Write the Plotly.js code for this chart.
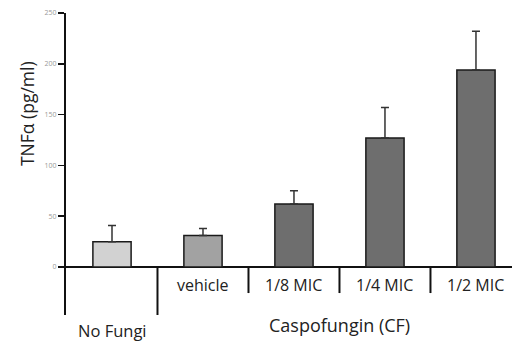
<!DOCTYPE html>
<html><head><meta charset="utf-8">
<script src="https://cdn.plot.ly/plotly-3.0.1.min.js"></script>
<style>html,body{margin:0;padding:0;background:#fff}#c{width:516px;height:346px}</style>
</head><body><div id="c"></div>
<script>
const categories = ["No Fungi", "vehicle", "1/8 MIC", "1/4 MIC", "1/2 MIC"];
const means = [25, 31, 62, 127, 194];
const errUpper = [16, 7, 13, 30, 38];
const yTicks = [0, 50, 100, 150, 200, 250];
const groupLabel = "Caspofungin (CF)";
const yTitle = "TNF\u03b1 (pg/ml)";

const barColors = ["#d2d2d2", "#a2a2a2", "#6e6e6e", "#6e6e6e", "#6e6e6e"];
const FONT = "Open Sans, sans-serif";

const trace = {
  type: "bar",
  x: categories,
  y: means,
  width: 0.42,
  marker: {color: barColors, line: {color: "#1a1a1a", width: 1.5}},
  error_y: {type: "data", symmetric: false, array: errUpper, arrayminus: means.map(() => 0),
            color: "#333", thickness: 1.5, width: 4},
  hoverinfo: "none"
};

const shapes = [];
for (let i = 0; i < categories.length - 1; i++) {
  shapes.push({type: "line", xref: "x", yref: "y", x0: i + 0.5, x1: i + 0.5,
    y0: 0, y1: i === 0 ? -47.2 : -25.6, line: {color: "#111", width: 2}});
}

const annotations = [];
categories.forEach((c, i) => {
  if (i === 0) {
    annotations.push({x: i, xref: "x", y: -0.05, yref: "paper", text: c, showarrow: false,
      xanchor: "center", yanchor: "middle", font: {family: FONT, size: 16.5, color: "#222"}});
  } else {
    annotations.push({x: i, xref: "x", y: -17.7, yref: "y", text: c, showarrow: false,
      xanchor: "center", yanchor: "middle", font: {family: FONT, size: 16, color: "#222"}});
  }
});
annotations.push({x: 2.505, xref: "x", y: -0.033, yref: "paper", text: groupLabel, showarrow: false,
  xanchor: "center", yanchor: "middle", font: {family: FONT, size: 18, color: "#222"}});
annotations.push({x: -0.087, xref: "paper", y: 0.666, yref: "paper", text: yTitle, showarrow: false,
  textangle: -90, xanchor: "center", yanchor: "middle", font: {family: FONT, size: 17.5, color: "#222"}});

const layout = {
  width: 516, height: 346,
  margin: {l: 66, r: 4, t: 13, b: 31},
  paper_bgcolor: "#fff", plot_bgcolor: "#fff",
  showlegend: false,
  xaxis: {type: "category", range: [-0.5055, 4.396], showticklabels: false, ticks: "",
          showgrid: false, zeroline: false, showline: false, fixedrange: true},
  yaxis: {range: [-47.2, 250], tickvals: yTicks, ticktext: yTicks.map(String),
          ticks: "outside", ticklen: 6, tickwidth: 1.5, tickcolor: "#111",
          showline: true, linecolor: "#111", linewidth: 2,
          showgrid: false, zeroline: true, zerolinecolor: "#111", zerolinewidth: 2,
          tickfont: {family: FONT, size: 7, color: "#999"}, fixedrange: true},
  shapes: shapes,
  annotations: annotations
};

Plotly.newPlot("c", [trace], layout, {displayModeBar: false, staticPlot: true});
</script></body></html>
